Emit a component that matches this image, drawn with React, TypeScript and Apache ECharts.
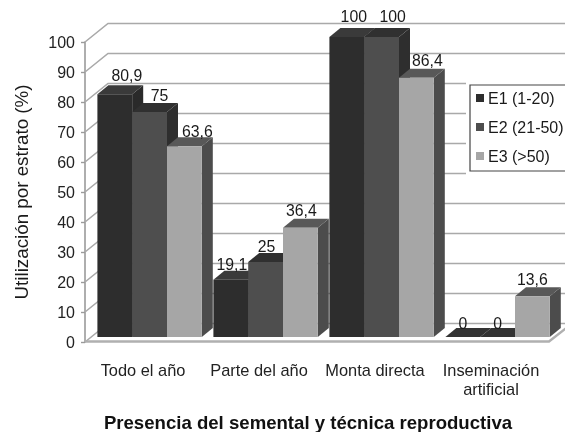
import React, { useEffect, useRef } from "react";
import * as echarts from "echarts";

const categories = ["Todo el año", "Parte del año", "Monta directa", "Inseminación\nartificial"];
const seriesNames = ["E1 (1-20)", "E2 (21-50)", "E3 (>50)"];
const e1Values = [80.9, 19.1, 100, 0];
const e2Values = [75, 25, 100, 0];
const e3Values = [63.6, 36.4, 86.4, 13.6];
const yTicks = [0, 10, 20, 30, 40, 50, 60, 70, 80, 90, 100];

const FONT = "'Liberation Sans', Arial, sans-serif";
const frontColors = ["#2d2d2d", "#4e4e4e", "#a6a6a6"];
const topColors = ["#3a3a3a", "#303030", "#585858"];
const sideColors = ["#2a2a2a", "#2e2e2e", "#4c4c4c"];
const labelShift = [
  [12, 1, 7, 0],
  [10, 1, 11, 0],
  [13, 1, 11, 0],
];
const labelLift = [
  [19, 15, 21, 14],
  [17, 16, 21, 14],
  [15, 17, 17, 17],
];

const WALL_DX = 23;
const WALL_DY = 18.5;
const BAR_OFFSET_X = 6.6;
const BAR_OFFSET_Y = 5;
const DEPTH_X = 11;
const DEPTH_Y = 9;

function barSeries(name: string, values: number[], idx: number) {
  return {
    type: "custom",
    name,
    z: 3,
    itemStyle: { color: frontColors[idx] },
    encode: { x: 0, y: 1 },
    data: values.map((v, i) => [i, v]),
    renderItem: (_p: any, api: any) => {
      const cat = api.value(0);
      const val = api.value(1);
      const [cx, yTop0] = api.coord([cat, val]);
      const [, y00] = api.coord([cat, 0]);
      const w = api.size([1, 0])[0] * 0.3;
      const x0 = cx + BAR_OFFSET_X + (idx - 1.5) * w;
      const x1 = x0 + w;
      const yTop = yTop0 - BAR_OFFSET_Y;
      const yBase = y00 - BAR_OFFSET_Y;
      const children: any[] = [];
      children.push({
        type: "polygon",
        shape: { points: [[x1, yTop], [x1 + DEPTH_X, yTop - DEPTH_Y], [x1 + DEPTH_X, yBase - DEPTH_Y], [x1, yBase]] },
        style: { fill: sideColors[idx] },
      });
      children.push({
        type: "polygon",
        shape: { points: [[x0, yTop], [x0 + DEPTH_X, yTop - DEPTH_Y], [x1 + DEPTH_X, yTop - DEPTH_Y], [x1, yTop]] },
        style: { fill: val === 0 ? "#333333" : topColors[idx] },
      });
      children.push({
        type: "rect",
        shape: { x: x0, y: yTop, width: w, height: yBase - yTop },
        style: { fill: frontColors[idx] },
      });
      children.push({
        type: "text",
        z2: 10,
        style: {
          text: String(val).replace(".", ","),
          x: (x0 + x1) / 2 + labelShift[idx][cat],
          y: yTop - labelLift[idx][cat],
          align: "center",
          verticalAlign: "middle",
          fill: "#1a1a1a",
          font: `15.8px ${FONT}`,
        },
      });
      return { type: "group", children };
    },
  };
}

export default function App() {
  const ref = useRef<HTMLDivElement>(null);
  useEffect(() => {
    const chart = echarts.init(ref.current!, undefined, { renderer: "svg" });
    const wall = {
      type: "custom",
      name: "wall",
      z: 1,
      silent: true,
      encode: { y: 0 },
      data: yTicks.map((t) => [t]),
      renderItem: (params: any, api: any) => {
        const v = api.value(0);
        const [, y] = api.coord([0, v]);
        const left = params.coordSys.x;
        const right = left + params.coordSys.width;
        return {
          type: "polyline",
          shape: {
            points: [
              [left, y],
              [left + WALL_DX, y - WALL_DY],
              [right + WALL_DX, y - WALL_DY],
            ],
          },
          style: { fill: "none", stroke: "#a9a9a9", lineWidth: 1.6 },
        };
      },
    };
    const floor = {
      type: "custom",
      name: "floor",
      z: 1,
      silent: true,
      encode: { y: 0 },
      data: [[0]],
      renderItem: (params: any, api: any) => {
        const [, y] = api.coord([0, api.value(0)]);
        const left = params.coordSys.x;
        const right = left + params.coordSys.width;
        return {
          type: "polyline",
          shape: { points: [[left, y - 0.5], [right, y - 0.5], [right + WALL_DX, y - WALL_DY]] },
          style: { fill: "none", stroke: "#b0b0b0", lineWidth: 2.4 },
        };
      },
    };
    chart.setOption({
      animation: false,
      backgroundColor: "#ffffff",
      title: {
        text: "Presencia del semental y técnica reproductiva",
        left: 303,
        top: 408,
        textAlign: "center",
        textStyle: { fontFamily: FONT, fontSize: 18.6, fontWeight: "bold", color: "#111111" },
      },
      legend: {
        data: seriesNames,
        orient: "vertical",
        left: 470,
        top: 85,
        padding: [5, 12, 7, 6],
        itemWidth: 8,
        itemHeight: 8,
        itemGap: 13,
        icon: "rect",
        backgroundColor: "#ffffff",
        borderColor: "#444444",
        borderWidth: 1.2,
        textStyle: { fontFamily: FONT, fontSize: 16, color: "#1a1a1a", padding: [0, 0, 0, -1] },
      },
      graphic: [
        { type: "rect", z: 2, shape: { x: 466, y: 81, width: 99, height: 95 }, style: { fill: "#ffffff" } },
      ],
      grid: { left: 85, right: 16, top: 42, bottom: 90, outerBoundsMode: "none" },
      xAxis: {
        type: "category",
        data: categories,
        axisLine: { show: false },
        axisTick: { show: false },
        splitLine: { show: false },
        axisLabel: {
          margin: 18,
          interval: 0,
          fontFamily: FONT,
          fontSize: 16.4,
          lineHeight: 19,
          color: "#222222",
        },
      },
      yAxis: {
        type: "value",
        min: 0,
        max: 100,
        interval: 10,
        name: "Utilización por estrato (%)",
        nameLocation: "middle",
        nameGap: 54,
        nameTextStyle: { fontFamily: FONT, fontSize: 18.8, color: "#1a1a1a" },
        axisLine: { show: true, lineStyle: { color: "#9a9a9a", width: 1.6 } },
        axisTick: { show: true, length: 4, lineStyle: { color: "#9a9a9a", width: 1.4 } },
        splitLine: { show: false },
        axisLabel: { margin: 10, fontFamily: FONT, fontSize: 16, color: "#222222" },
      },
      series: [
        wall,
        floor,
        barSeries(seriesNames[0], e1Values, 0),
        barSeries(seriesNames[1], e2Values, 1),
        barSeries(seriesNames[2], e3Values, 2),
      ],
    });
    return () => chart.dispose();
  }, []);
  return <div ref={ref} style={{ position: "fixed", left: 0, top: 0, width: 565, height: 432, filter: "blur(0.5px)" }} />;
}
